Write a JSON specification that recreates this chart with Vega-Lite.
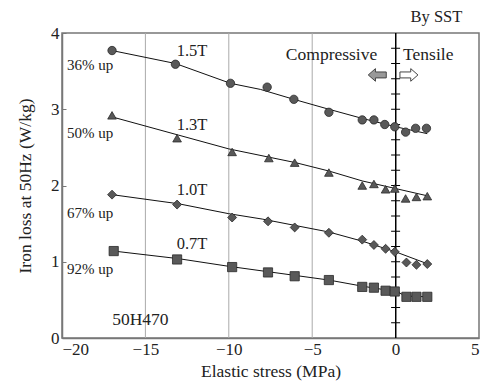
{
  "$schema": "https://vega.github.io/schema/vega-lite/v6.json",
  "autosize": {"type": "none"},
  "padding": {"left": 62, "top": 33, "right": 8, "bottom": 51},
  "width": 417,
  "height": 305,
  "config": {
    "view": {"stroke": "#777", "strokeWidth": 1.5},
    "font": "'Liberation Serif', 'Times New Roman', Times, serif",
    "text": {"font": "'Liberation Serif', 'Times New Roman', Times, serif", "color": "#222"}
  },
  "datasets": {
    "pts": [
      {"B": "1.5T", "x": -17.0, "y": 3.77}, {"B": "1.5T", "x": -13.2, "y": 3.59}, {"B": "1.5T", "x": -9.9, "y": 3.34}, {"B": "1.5T", "x": -7.7, "y": 3.29}, {"B": "1.5T", "x": -6.1, "y": 3.13}, {"B": "1.5T", "x": -4.0, "y": 2.96}, {"B": "1.5T", "x": -2.0, "y": 2.86}, {"B": "1.5T", "x": -1.3, "y": 2.86}, {"B": "1.5T", "x": -0.65, "y": 2.8}, {"B": "1.5T", "x": -0.05, "y": 2.77}, {"B": "1.5T", "x": 0.6, "y": 2.7}, {"B": "1.5T", "x": 1.2, "y": 2.75}, {"B": "1.5T", "x": 1.85, "y": 2.75},
      {"B": "1.3T", "x": -17.0, "y": 2.92}, {"B": "1.3T", "x": -13.1, "y": 2.62}, {"B": "1.3T", "x": -9.8, "y": 2.44}, {"B": "1.3T", "x": -7.6, "y": 2.36}, {"B": "1.3T", "x": -6.05, "y": 2.3}, {"B": "1.3T", "x": -4.0, "y": 2.17}, {"B": "1.3T", "x": -2.0, "y": 2.0}, {"B": "1.3T", "x": -1.3, "y": 2.02}, {"B": "1.3T", "x": -0.6, "y": 1.95}, {"B": "1.3T", "x": -0.05, "y": 1.96}, {"B": "1.3T", "x": 0.6, "y": 1.83}, {"B": "1.3T", "x": 1.25, "y": 1.85}, {"B": "1.3T", "x": 1.9, "y": 1.86},
      {"B": "1.0T", "x": -17.0, "y": 1.88}, {"B": "1.0T", "x": -13.1, "y": 1.75}, {"B": "1.0T", "x": -9.8, "y": 1.58}, {"B": "1.0T", "x": -7.65, "y": 1.53}, {"B": "1.0T", "x": -6.05, "y": 1.45}, {"B": "1.0T", "x": -4.0, "y": 1.38}, {"B": "1.0T", "x": -2.0, "y": 1.29}, {"B": "1.0T", "x": -1.3, "y": 1.22}, {"B": "1.0T", "x": -0.6, "y": 1.17}, {"B": "1.0T", "x": -0.05, "y": 1.13}, {"B": "1.0T", "x": 0.65, "y": 0.99}, {"B": "1.0T", "x": 1.25, "y": 0.96}, {"B": "1.0T", "x": 1.9, "y": 0.97},
      {"B": "0.7T", "x": -16.9, "y": 1.14}, {"B": "0.7T", "x": -13.1, "y": 1.03}, {"B": "0.7T", "x": -9.8, "y": 0.93}, {"B": "0.7T", "x": -7.65, "y": 0.86}, {"B": "0.7T", "x": -6.05, "y": 0.81}, {"B": "0.7T", "x": -4.0, "y": 0.76}, {"B": "0.7T", "x": -2.0, "y": 0.67}, {"B": "0.7T", "x": -1.3, "y": 0.66}, {"B": "0.7T", "x": -0.6, "y": 0.62}, {"B": "0.7T", "x": -0.05, "y": 0.61}, {"B": "0.7T", "x": 0.65, "y": 0.54}, {"B": "0.7T", "x": 1.25, "y": 0.54}, {"B": "0.7T", "x": 1.9, "y": 0.54}
    ],
    "fit": [
      {"B": "1.5T", "x": -17.0, "y": 3.77}, {"B": "1.5T", "x": -13.2, "y": 3.6}, {"B": "1.5T", "x": -9.9, "y": 3.34}, {"B": "1.5T", "x": -8.1, "y": 3.26}, {"B": "1.5T", "x": -6.1, "y": 3.13}, {"B": "1.5T", "x": -4.0, "y": 3.0}, {"B": "1.5T", "x": -2.0, "y": 2.88}, {"B": "1.5T", "x": 0.0, "y": 2.77}, {"B": "1.5T", "x": 1.9, "y": 2.68},
      {"B": "1.3T", "x": -17.0, "y": 2.9}, {"B": "1.3T", "x": -13.0, "y": 2.66}, {"B": "1.3T", "x": -10.0, "y": 2.48}, {"B": "1.3T", "x": -6.0, "y": 2.3}, {"B": "1.3T", "x": -4.0, "y": 2.19}, {"B": "1.3T", "x": -2.0, "y": 2.06}, {"B": "1.3T", "x": 0.0, "y": 1.96}, {"B": "1.3T", "x": 2.0, "y": 1.86},
      {"B": "1.0T", "x": -17.0, "y": 1.88}, {"B": "1.0T", "x": -13.0, "y": 1.76}, {"B": "1.0T", "x": -10.0, "y": 1.63}, {"B": "1.0T", "x": -8.0, "y": 1.56}, {"B": "1.0T", "x": -4.0, "y": 1.39}, {"B": "1.0T", "x": -2.0, "y": 1.27}, {"B": "1.0T", "x": 0.0, "y": 1.13}, {"B": "1.0T", "x": 1.95, "y": 0.97},
      {"B": "0.7T", "x": -16.9, "y": 1.14}, {"B": "0.7T", "x": -13.0, "y": 1.04}, {"B": "0.7T", "x": -10.0, "y": 0.94}, {"B": "0.7T", "x": -6.0, "y": 0.82}, {"B": "0.7T", "x": -4.0, "y": 0.76}, {"B": "0.7T", "x": -2.0, "y": 0.68}, {"B": "0.7T", "x": 0.0, "y": 0.61}, {"B": "0.7T", "x": 0.65, "y": 0.55}, {"B": "0.7T", "x": 1.95, "y": 0.54}
    ],
    "zticks": [
      {"y": 0.2}, {"y": 0.4}, {"y": 0.6}, {"y": 0.8}, {"y": 1.0}, {"y": 1.2}, {"y": 1.4}, {"y": 1.6}, {"y": 1.8}, {"y": 2.0},
      {"y": 2.2}, {"y": 2.4}, {"y": 2.6}, {"y": 2.8}, {"y": 3.0}, {"y": 3.2}, {"y": 3.4}, {"y": 3.6}, {"y": 3.8}
    ],
    "grid": [{"x": -15}, {"x": -10}, {"x": -5}],
    "blabels": [
      {"x": -12.2, "y": 3.77, "t": "1.5T"}, {"x": -12.2, "y": 2.79, "t": "1.3T"}, {"x": -12.2, "y": 1.94, "t": "1.0T"}, {"x": -12.2, "y": 1.23, "t": "0.7T"}
    ],
    "pct": [
      {"x": -19.7, "y": 3.58, "t": "36% up"}, {"x": -19.7, "y": 2.69, "t": "50% up"}, {"x": -19.7, "y": 1.64, "t": "67% up"}, {"x": -19.7, "y": 0.91, "t": "92% up"}
    ]
  },
  "layer": [
    {
      "data": {"name": "grid"},
      "mark": {"type": "rule", "color": "#aaa", "strokeWidth": 1},
      "encoding": {"x": {"field": "x", "type": "quantitative"}}
    },
    {
      "data": {"name": "grid"},
      "mark": {"type": "rule", "color": "#000", "strokeWidth": 1.2},
      "encoding": {"x": {"datum": 0, "type": "quantitative"}}
    },
    {
      "data": {"name": "zticks"},
      "mark": {"type": "rule", "color": "#000", "strokeWidth": 1},
      "encoding": {
        "x": {"datum": -0.27, "type": "quantitative"},
        "x2": {"datum": 0.27},
        "y": {"field": "y", "type": "quantitative"}
      }
    },
    {
      "data": {"name": "fit"},
      "mark": {"type": "line", "color": "#111", "strokeWidth": 1},
      "encoding": {
        "x": {"field": "x", "type": "quantitative"},
        "y": {"field": "y", "type": "quantitative"},
        "detail": {"field": "B", "type": "nominal"}
      }
    },
    {
      "data": {"name": "pts"},
      "mark": {"type": "point", "filled": true, "fill": "#595959", "stroke": "#2a2a2a", "strokeWidth": 0.8, "opacity": 1},
      "encoding": {
        "x": {
          "field": "x", "type": "quantitative",
          "scale": {"domain": [-20, 5], "nice": false, "zero": false},
          "axis": {
            "values": [-20, -15, -10, -5, 0, 5], "format": "d", "ticks": false, "grid": false,
            "domainColor": "#777", "domainWidth": 1.5,
            "labelFont": "'Liberation Serif', 'Times New Roman', Times, serif", "labelFontSize": 17, "labelColor": "#222", "labelPadding": 3,
            "title": "Elastic stress (MPa)", "titleFont": "'Liberation Serif', 'Times New Roman', Times, serif", "titleFontSize": 17.5, "titleFontWeight": "normal", "titleColor": "#222", "titlePadding": 5
          }
        },
        "y": {
          "field": "y", "type": "quantitative",
          "scale": {"domain": [0, 4], "nice": false, "zero": true},
          "axis": {
            "values": [0, 1, 2, 3, 4], "format": "d", "tickSize": -4, "tickColor": "#777", "grid": false,
            "domainColor": "#777", "domainWidth": 1.5,
            "labelFont": "'Liberation Serif', 'Times New Roman', Times, serif", "labelFontSize": 17, "labelColor": "#222", "labelPadding": 7,
            "title": "Iron loss at 50Hz (W/kg)", "titleFont": "'Liberation Serif', 'Times New Roman', Times, serif", "titleFontSize": 17.5, "titleFontWeight": "normal", "titleColor": "#222", "titlePadding": 16
          }
        },
        "shape": {
          "field": "B", "type": "nominal",
          "scale": {"domain": ["1.5T", "1.3T", "1.0T", "0.7T"], "range": ["circle", "triangle-up", "diamond", "square"]},
          "legend": null
        },
        "size": {
          "field": "B", "type": "nominal",
          "scale": {"domain": ["1.5T", "1.3T", "1.0T", "0.7T"], "range": [70, 85, 95, 70]},
          "legend": null
        }
      }
    },
    {
      "data": {"name": "blabels"},
      "mark": {"type": "text", "fontSize": 16.5, "align": "center", "baseline": "middle"},
      "encoding": {
        "x": {"field": "x", "type": "quantitative"},
        "y": {"field": "y", "type": "quantitative"},
        "text": {"field": "t"}
      }
    },
    {
      "data": {"name": "pct"},
      "mark": {"type": "text", "fontSize": 15, "align": "left", "baseline": "middle"},
      "encoding": {
        "x": {"field": "x", "type": "quantitative"},
        "y": {"field": "y", "type": "quantitative"},
        "text": {"field": "t"}
      }
    },
    {
      "data": {"values": [{"x": -15.3, "y": 0.23, "t": "50H470"}]},
      "mark": {"type": "text", "fontSize": 17.5, "align": "center", "baseline": "middle"},
      "encoding": {
        "x": {"field": "x", "type": "quantitative"},
        "y": {"field": "y", "type": "quantitative"},
        "text": {"field": "t"}
      }
    },
    {
      "data": {"values": [{"x": -1.1, "y": 3.71, "t": "Compressive"}]},
      "mark": {"type": "text", "fontSize": 17.5, "align": "right", "baseline": "middle"},
      "encoding": {
        "x": {"field": "x", "type": "quantitative"},
        "y": {"field": "y", "type": "quantitative"},
        "text": {"field": "t"}
      }
    },
    {
      "data": {"values": [{"x": 0.45, "y": 3.71, "t": "Tensile"}]},
      "mark": {"type": "text", "fontSize": 17.5, "align": "left", "baseline": "middle"},
      "encoding": {
        "x": {"field": "x", "type": "quantitative"},
        "y": {"field": "y", "type": "quantitative"},
        "text": {"field": "t"}
      }
    },
    {
      "data": {"values": [{"x": 4.0, "y": 4.21, "t": "By SST"}]},
      "mark": {"type": "text", "fontSize": 16.5, "align": "right", "baseline": "middle"},
      "encoding": {
        "x": {"field": "x", "type": "quantitative"},
        "y": {"field": "y", "type": "quantitative"},
        "text": {"field": "t"}
      }
    },
    {
      "data": {"values": [{"x": -1.1, "y": 3.45}]},
      "mark": {"type": "point", "filled": true, "fill": "#999", "stroke": "#444", "strokeWidth": 1, "opacity": 1, "size": 324,
        "shape": "M -1 0 L -0.2 -0.7 L -0.2 -0.33 L 1 -0.33 L 1 0.33 L -0.2 0.33 L -0.2 0.7 Z"},
      "encoding": {
        "x": {"field": "x", "type": "quantitative"},
        "y": {"field": "y", "type": "quantitative"}
      }
    },
    {
      "data": {"values": [{"x": 0.8, "y": 3.45}]},
      "mark": {"type": "point", "filled": true, "fill": "#fff", "stroke": "#444", "strokeWidth": 1, "opacity": 1, "size": 324,
        "shape": "M 1 0 L 0.2 -0.7 L 0.2 -0.33 L -1 -0.33 L -1 0.33 L 0.2 0.33 L 0.2 0.7 Z"},
      "encoding": {
        "x": {"field": "x", "type": "quantitative"},
        "y": {"field": "y", "type": "quantitative"}
      }
    }
  ]
}
